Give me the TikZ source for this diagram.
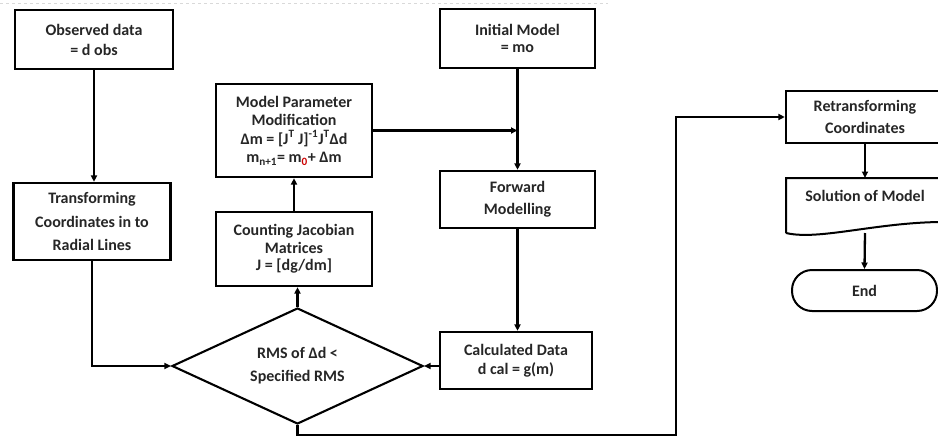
\documentclass[tikz,border=0pt]{standalone}
\usepackage{fontspec}
\setmainfont{Carlito}
\usetikzlibrary{shapes.geometric,arrows.meta}
\definecolor{ink}{HTML}{262626}
\tikzset{
  box/.style={draw=black, line width=2.3pt, rectangle, inner sep=0pt, align=center, font=\bfseries\fontsize{16}{20}\selectfont, text=ink},
  dia/.style={draw=black, line width=2.1pt, diamond, shape aspect=2.16, inner sep=0pt, align=center, font=\bfseries\fontsize{16}{23}\selectfont, text=ink},
  conn/.style={line width=2.3pt, -{Triangle[length=6.5pt,width=6pt]}},
  plain/.style={line width=2.3pt},
  txt/.style={inner sep=0pt, align=center, font=\bfseries\fontsize{16}{22}\selectfont, text=ink}
}
\begin{document}
\begin{tikzpicture}[x=1pt,y=-1pt]
\useasboundingbox (0,0) rectangle (938,437);
\clip (0,0) rectangle (938,437);
% faint top line
\draw[gray!30, dashed, line width=0.8pt] (0,3) -- (608,3);

\node[box, minimum width=158, minimum height=59] (Obs) at (94,39.5) {Observed data\\= d obs};
\node[box, minimum width=157, minimum height=77, font=\bfseries\fontsize{16}{23.5}\selectfont] (Trans) at (92,221.5) {Transforming\\Coordinates in to\\Radial Lines};
\node[box, minimum width=156, minimum height=93, font=\bfseries\fontsize{16}{18.5}\selectfont] (Model) at (294,130.5) {Model Parameter\\Modification\\Δm = [J\textsuperscript{T} J]\textsuperscript{-1}J\textsuperscript{T}Δd\\m\textsubscript{n+1}= m\textsubscript{\textcolor{red!80!black}{0}}+ Δm};
\node[box, minimum width=156, minimum height=74, font=\bfseries\fontsize{16}{17.5}\selectfont] (Count) at (294,249) {Counting Jacobian\\Matrices\\J = [dg/dm]};
\node[box, minimum width=155, minimum height=59, font=\bfseries\fontsize{16}{16.6}\selectfont] (Init) at (517.5,38.5) {Initial Model\\= mo};
\node[box, minimum width=155, minimum height=57, font=\bfseries\fontsize{16}{22}\selectfont] (Fwd) at (517.5,199.5) {Forward\\Modelling};
\node[box, minimum width=152, minimum height=57, font=\bfseries\fontsize{16}{19}\selectfont] (Calc) at (516,360.5) {Calculated Data\\d cal = g(m)};
\node[dia, minimum width=251, minimum height=116] (Diam) at (297.5,366) {RMS of Δd <\\Specified RMS};
\node[box, minimum width=158, minimum height=52, font=\bfseries\fontsize{16}{22}\selectfont] (Retr) at (865,117) {Retransforming\\Coordinates};

% Solution of Model (document shape)
\node[txt] (Sol) at (865,196) {Solution of Model};
\coordinate (SolTop) at (865,178);
\coordinate (SolBot) at (865,233);
\draw[line width=2pt] (786,233) -- (786,178) -- (950,178) -- (950,222)
  (786,233) .. controls (820,241) and (880,221) .. (950,222);

% End terminal
\node[draw=black, line width=2pt, rounded corners=20pt, minimum width=145, minimum height=41, inner sep=0pt, font=\bfseries\fontsize{16}{20}\selectfont, text=ink] (End) at (864.5,290.5) {End};

% connectors
\draw[conn] (Obs.south) -- (Obs.south |- Trans.north);
\draw[conn] (Trans.south) |- (Diam.west);
\draw[conn] (Diam.north) -- (Diam.north |- Count.south);
\draw[conn] (Count.north) -- (Model.south);
\coordinate (J) at (Init.south |- Model.east);
\draw[plain] (Init.south) -- (J);
\draw[conn] (Model.east) -- (J);
\draw[conn] (J) -- (Fwd.north);
\draw[conn] (Fwd.south) -- (Fwd.south |- Calc.north);
\draw[conn] (Calc.west |- Diam.east) -- (Diam.east);
\coordinate (B1) at (676,435);
\draw[conn] (Diam.south) |- (B1) |- (Retr.west);
\draw[conn] (Retr.south) -- (SolTop);
\draw[conn] (SolBot) -- (End.north);
\end{tikzpicture}
\end{document}
